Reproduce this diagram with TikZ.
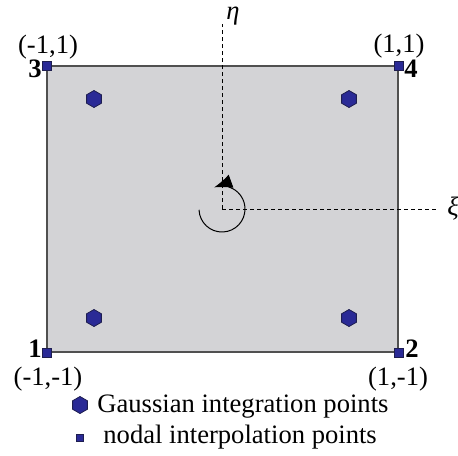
\documentclass[tikz,border=0pt]{standalone}
\usepackage{fontspec}
\setmainfont{Liberation Serif}
\usetikzlibrary{shapes.geometric,arrows.meta}
\definecolor{elemgray}{RGB}{211,211,214}
\definecolor{elemedge}{RGB}{80,80,80}
\definecolor{ptblue}{RGB}{42,42,150}
\definecolor{ptedge}{RGB}{30,30,80}
\begin{document}
\begin{tikzpicture}[x=0.5pt,y=-0.5pt, font=\fontsize{13.3}{15}\selectfont,
  gauss/.style={regular polygon, regular polygon sides=6, shape border rotate=30,
    fill=ptblue, draw=ptedge, line width=0.4pt, inner sep=0pt, minimum size=8.5pt},
  nodal/.style={rectangle, fill=ptblue, draw=ptedge, line width=0.4pt,
    inner sep=0pt, minimum size=4.5pt},
  legnodal/.style={nodal, minimum size=3.5pt},
  axisline/.style={dash pattern=on 2pt off 1.5pt, line width=0.5pt},
  lbl/.style={inner sep=0pt, anchor=base},
  numlbl/.style={lbl, font=\fontsize{13.3}{15}\selectfont\bfseries}]
\useasboundingbox (0,0) rectangle (458,455);
% element
\node[draw=elemedge, fill=elemgray, line width=0.6pt, inner sep=0pt,
      minimum width=175.5pt, minimum height=143pt] (elem) at (222.5,209) {};
% axes
\coordinate (O) at (222,209);
\coordinate (etaend) at (222,24);
\coordinate (xiend) at (437,209);
\draw[axisline] (O) -- (etaend);
\draw[axisline] (O) -- (xiend);
\node[lbl] (eta) at (233,19) {\itshape η};
\node[inner sep=0pt, anchor=west] (xi) at (447,209) {\itshape ξ};
% rotation arrow (y up inside this scope)
\begin{scope}[shift={(O)}, x=0.5pt, y=0.5pt]
  \coordinate (rotstart) at (182:23);
  \draw[line width=0.5pt, -{Latex[length=9pt,width=7pt]}] (rotstart)
    arc[start angle=182, end angle=470, radius=23];
\end{scope}
% gauss points
\node[gauss] (g1) at (94,318) {};
\node[gauss] (g2) at (349,318) {};
\node[gauss] (g3) at (94,99) {};
\node[gauss] (g4) at (349,99) {};
% nodal points
\node[nodal] (n1) at (elem.south west) {};
\node[nodal] (n2) at (elem.south east) {};
\node[nodal] (n3) at (elem.north west) {};
\node[nodal] (n4) at (elem.north east) {};
% labels
\node[lbl] (c3) at (48,53) {(-1,1)};
\node[lbl] (c4) at (399,52) {(1,1)};
\node[lbl] (c1) at (48,385) {(-1,-1)};
\node[lbl] (c2) at (398,385) {(1,-1)};
\node[numlbl] (l3) at (35,77) {3};
\node[numlbl] (l4) at (411,77) {4};
\node[numlbl] (l1) at (35,357) {1};
\node[numlbl] (l2) at (412,357) {2};
% legend
\node[gauss] (leg1) at (80,405) {};
\node[legnodal] (leg2) at (80,438) {};
\node[inner sep=0pt, anchor=base west] (legt1) at (97,412) {Gaussian integration points};
\node[inner sep=0pt, anchor=base west] (legt2) at (103,443) {nodal interpolation points};
\end{tikzpicture}
\end{document}
